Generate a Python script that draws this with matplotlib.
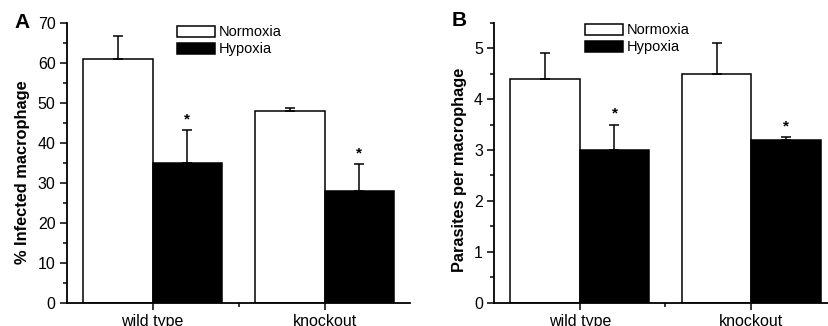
import matplotlib
matplotlib.use("Agg")
import matplotlib.pyplot as plt
from matplotlib.patches import Patch
import numpy as np

plt.rcParams['font.family'] = ['Liberation Sans', 'DejaVu Sans']

groups = ["wild type", "knockout"]
series = ["Normoxia", "Hypoxia"]

a_normoxia = [61.0, 48.0]
a_normoxia_err = [5.8, 0.6]
a_hypoxia = [35.0, 28.0]
a_hypoxia_err = [8.3, 6.8]

b_normoxia = [4.4, 4.5]
b_normoxia_err = [0.5, 0.6]
b_hypoxia = [3.0, 3.2]
b_hypoxia_err = [0.5, 0.05]

W, H = 829, 326
fig = plt.figure(figsize=(W / 100, H / 100), dpi=100)

def px_axes(left, right, top, bottom):
    return fig.add_axes([left / W, 1 - bottom / H, (right - left) / W, (bottom - top) / H])

def draw(ax, norm, norm_err, hyp, hyp_err, ylim, ylabel, legend_xy, star_off, label_xy):
    x = np.array([1.0, 2.0])
    bw = 0.405
    lw = 1.1
    ax.bar(x - bw / 2, norm, bw, color="white", edgecolor="black", linewidth=lw, zorder=2)
    ax.bar(x + bw / 2, hyp, bw, color="black", edgecolor="black", linewidth=lw, zorder=2)
    ax.errorbar(x - bw / 2, norm, yerr=[np.zeros(2), norm_err], fmt="none", ecolor="black",
                elinewidth=lw, capsize=3.6, capthick=lw, zorder=3)
    ax.errorbar(x + bw / 2, hyp, yerr=[np.zeros(2), hyp_err], fmt="none", ecolor="black",
                elinewidth=lw, capsize=3.6, capthick=lw, zorder=3)
    for xi, h, e in zip(x + bw / 2, hyp, hyp_err):
        ax.text(xi, h + e + star_off, "*", ha="center", va="bottom", fontsize=11, fontweight="bold")
    ax.set_xlim(0.5, 2.5)
    ax.set_ylim(*ylim)
    ax.set_xticks(x)
    ax.set_xticklabels(groups, fontsize=11.5)
    ax.set_xticks([1.5], minor=True)
    ax.tick_params(axis="both", which="major", direction="out", length=5, width=1.1, labelsize=11.5, pad=3)
    ax.tick_params(axis="both", which="minor", direction="out", length=3, width=1.1)
    for s in ["top", "right"]:
        ax.spines[s].set_visible(False)
    for s in ["left", "bottom"]:
        ax.spines[s].set_linewidth(1.3)
    ax.set_ylabel(ylabel, fontsize=11.8, fontweight="bold")
    ax.yaxis.set_label_coords(*label_xy)
    handles = [Patch(facecolor="white", edgecolor="black", linewidth=1.1),
               Patch(facecolor="black", edgecolor="black", linewidth=1.1)]
    ax.legend(handles, series, loc="upper left", bbox_to_anchor=(legend_xy[0] / W, 1 - legend_xy[1] / H),
              bbox_transform=fig.transFigure, frameon=False, fontsize=10.5, borderpad=0,
              handlelength=2.6, handleheight=0.85, handletextpad=0.25, labelspacing=0.2,
              borderaxespad=0)
    return ax

axA = px_axes(66.7, 410.5, 22.7, 302.7)
draw(axA, a_normoxia, a_normoxia_err, a_hypoxia, a_hypoxia_err, (0, 70),
     "% Infected macrophage", (177.5, 25.5), 0.8, (-0.107, 0.465))
axA.set_yticks(np.arange(0, 70.1, 10))
axA.set_yticks(np.arange(0, 70.1, 5), minor=True)
fig.text(22 / W, 1 - 22 / H, "A", fontsize=15, fontweight="bold", ha="center", va="center")

axB = px_axes(494, 837, 22.7, 302.7)
draw(axB, b_normoxia, b_normoxia_err, b_hypoxia, b_hypoxia_err, (0, 5.5),
     "Parasites per macrophage", (585.5, 23.5), 0.07, (-0.079, 0.475))
axB.set_yticks(np.arange(0, 5.01, 1))
axB.set_yticks(np.arange(0, 5.51, 0.5), minor=True)
fig.text(459 / W, 1 - 21 / H, "B", fontsize=15, fontweight="bold", ha="center", va="center")

fig.savefig("out.png", dpi=100)
